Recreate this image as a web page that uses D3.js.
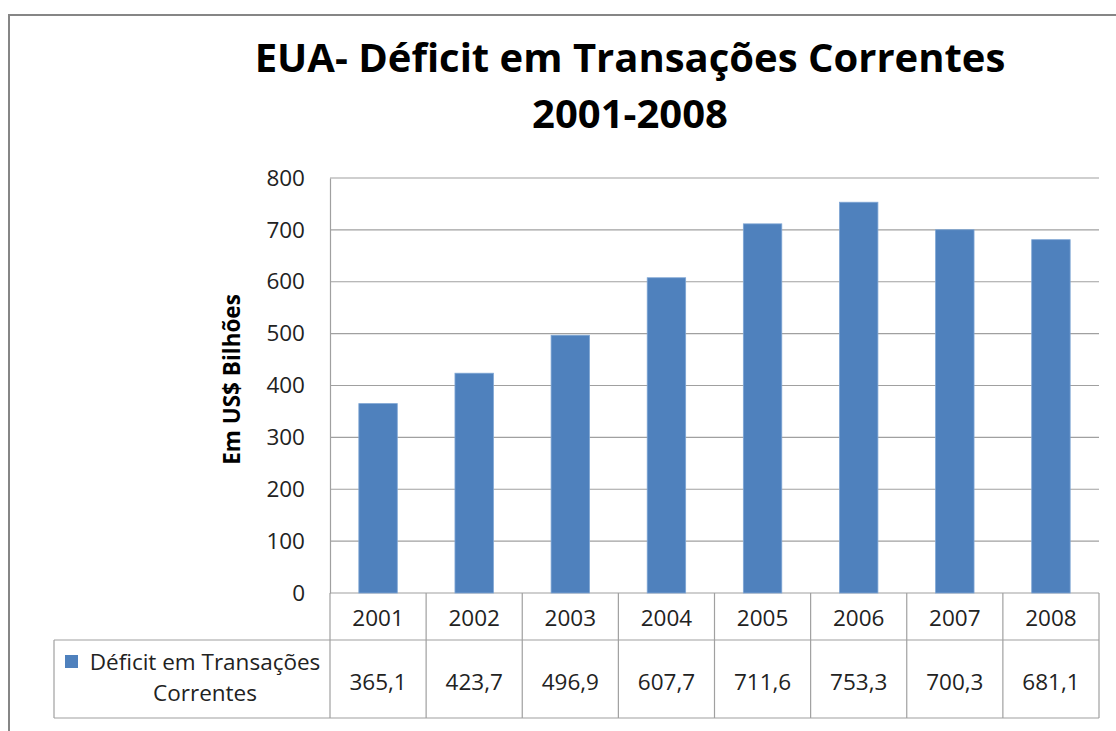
<!DOCTYPE html>
<html>
<head>
<meta charset="UTF-8">
<title></title>
<script src="https://cdn.jsdelivr.net/npm/d3@7"></script>
<style>
    body { margin: 0; background: #fff; }
    svg { display: block; }
</style>
</head>
<body>
<div id="chart"></div>
<script>
    var years = ["2001", "2002", "2003", "2004", "2005", "2006", "2007", "2008"];
    var deficit = [365.1, 423.7, 496.9, 607.7, 711.6, 753.3, 700.3, 681.1];
    var yTicks = [0, 100, 200, 300, 400, 500, 600, 700, 800];
    var seriesName = ["Déficit em Transações", "Correntes"];
    var titleLines = ["EUA- Déficit em Transações Correntes", "2001-2008"];

    var W = 1116, H = 731;
    var font = "'Open Sans', 'Noto Sans', sans-serif";
    var plot = {left: 330, right: 1099, top: 178, bottom: 593};
    var tableLeft = 54, headerBottom = 640, tableBottom = 718;
    var fs = 22.5;

    var svg = d3.select("#chart").append("svg")
            .attr("width", W)
            .attr("height", H);

    // moldura do gráfico
    svg.append("rect")
            .attr("x", 9).attr("y", 15)
            .attr("width", W + 20).attr("height", H + 20)
            .attr("fill", "none")
            .attr("stroke", "#868686")
            .attr("stroke-width", 2);

    var title = svg.append("text")
            .attr("text-anchor", "middle")
            .attr("font-family", font)
            .attr("font-weight", "bold")
            .attr("font-size", 40)
            .attr("fill", "#000");
    title.selectAll("tspan").data(titleLines).enter().append("tspan")
            .attr("x", 630)
            .attr("y", function(d, i){ return 72 + i * 56; })
            .text(function(d){ return d; });

    var x = d3.scaleBand().domain(years).range([plot.left, plot.right]).paddingInner(0).paddingOuter(0);
    var y = d3.scaleLinear().domain([0, 800]).range([plot.bottom, plot.top]);

    // linhas de grade
    svg.append("g").selectAll("line").data(yTicks).enter().append("line")
            .attr("x1", plot.left).attr("x2", plot.right)
            .attr("y1", function(d){ return y(d); })
            .attr("y2", function(d){ return y(d); })
            .attr("stroke", "#a0a0a0")
            .attr("stroke-width", 1.2);

    var yAxis = svg.append("g")
            .attr("transform", "translate(" + plot.left + ",0)")
            .call(d3.axisLeft(y).tickValues(yTicks).tickSize(0).tickPadding(25));
    yAxis.select(".domain").attr("stroke", "#a0a0a0").attr("stroke-width", 1.2);
    yAxis.selectAll("text")
            .attr("font-family", font)
            .attr("font-size", fs)
            .attr("fill", "#222");

    svg.append("text")
            .attr("transform", "translate(240," + ((plot.top + plot.bottom) / 2 - 6) + ") rotate(-90)")
            .attr("text-anchor", "middle")
            .attr("font-family", font)
            .attr("font-weight", "bold")
            .attr("font-size", fs)
            .text("Em US$ Bilhões");

    // barras
    var barW = x.bandwidth() / 2.5;
    svg.append("g").selectAll("rect").data(deficit).enter().append("rect")
            .attr("x", function(d, i){ return x(years[i]) + (x.bandwidth() - barW) / 2; })
            .attr("y", function(d){ return y(d); })
            .attr("width", barW)
            .attr("height", function(d){ return y(0) - y(d); })
            .attr("fill", "#4f81bd")
            .attr("stroke", "#7fa6d4")
            .attr("stroke-width", 0.8);

    // tabela de dados
    var grid = svg.append("g")
            .attr("stroke", "#a0a0a0")
            .attr("stroke-width", 1.2);
    grid.append("line").attr("x1", tableLeft).attr("x2", plot.right)
            .attr("y1", headerBottom).attr("y2", headerBottom);
    grid.append("line").attr("x1", tableLeft).attr("x2", plot.right)
            .attr("y1", tableBottom).attr("y2", tableBottom);
    grid.append("line").attr("x1", tableLeft).attr("x2", tableLeft)
            .attr("y1", headerBottom).attr("y2", tableBottom);
    grid.selectAll("line.v").data(years.concat(["end"])).enter().append("line")
            .attr("class", "v")
            .attr("x1", function(d, i){ return i < years.length ? x(d) : plot.right; })
            .attr("x2", function(d, i){ return i < years.length ? x(d) : plot.right; })
            .attr("y1", plot.bottom)
            .attr("y2", tableBottom);

    svg.append("g").selectAll("text").data(years).enter().append("text")
            .attr("x", function(d){ return x(d) + x.bandwidth() / 2; })
            .attr("y", 626)
            .attr("text-anchor", "middle")
            .attr("font-family", font)
            .attr("font-size", fs)
            .attr("fill", "#222")
            .text(function(d){ return d; });

    svg.append("g").selectAll("text").data(deficit).enter().append("text")
            .attr("x", function(d, i){ return x(years[i]) + x.bandwidth() / 2; })
            .attr("y", 690)
            .attr("text-anchor", "middle")
            .attr("font-family", font)
            .attr("font-size", fs)
            .attr("fill", "#222")
            .text(function(d){ return d3.format(".1f")(d).replace(".", ","); });

    svg.append("rect")
            .attr("x", 65).attr("y", 655)
            .attr("width", 13).attr("height", 13)
            .attr("fill", "#4f81bd");
    var leg = svg.append("text")
            .attr("text-anchor", "middle")
            .attr("font-family", font)
            .attr("font-size", fs)
            .attr("fill", "#222");
    leg.append("tspan").attr("x", 205).attr("y", 670).text(seriesName[0]);
    leg.append("tspan").attr("x", 205).attr("y", 701).text(seriesName[1]);
</script>
</body>
</html>
